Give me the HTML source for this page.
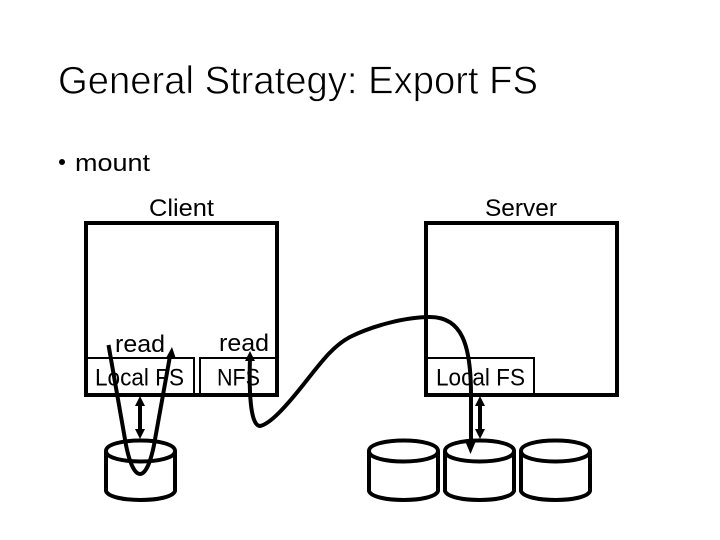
<!DOCTYPE html>
<html><head><meta charset="utf-8"><style>
html,body{margin:0;padding:0;background:#fff;width:720px;height:540px;overflow:hidden}
svg{display:block}
text{font-family:"Liberation Sans",sans-serif;fill:#000}
</style></head><body>
<svg width="720" height="540" viewBox="0 0 720 540" xmlns="http://www.w3.org/2000/svg">
<text x="58" y="93.5" font-size="39" textLength="480" lengthAdjust="spacingAndGlyphs" stroke="#fff" stroke-width="0.7" paint-order="fill stroke">General Strategy: Export FS</text>
<circle cx="62" cy="162" r="3" fill="#000"/>
<text x="75" y="171" font-size="24" textLength="75" lengthAdjust="spacingAndGlyphs">mount</text>
<text x="149" y="216" font-size="24" textLength="65" lengthAdjust="spacingAndGlyphs">Client</text>
<text x="485" y="216" font-size="24" textLength="72" lengthAdjust="spacingAndGlyphs">Server</text>
<g fill="none" stroke="#000">
<rect x="86" y="223" width="191" height="172" stroke-width="4"/>
<rect x="426" y="223" width="191" height="172" stroke-width="4"/>
<rect x="86" y="358" width="108" height="37" stroke-width="2"/>
<rect x="200" y="358" width="77" height="37" stroke-width="2"/>
<rect x="426" y="358" width="108" height="37" stroke-width="2"/>
</g>
<text x="115" y="352" font-size="24" textLength="50" lengthAdjust="spacingAndGlyphs">read</text>
<text x="219" y="351" font-size="24" textLength="50" lengthAdjust="spacingAndGlyphs">read</text>
<text x="95" y="385.5" font-size="24" textLength="89" lengthAdjust="spacingAndGlyphs">Local FS</text>
<text x="217" y="385.5" font-size="24" textLength="43" lengthAdjust="spacingAndGlyphs">NFS</text>
<text x="436" y="385.5" font-size="24" textLength="89" lengthAdjust="spacingAndGlyphs">Local FS</text>
<g fill="none" stroke="#000" stroke-width="4">
<path d="M106 451C106 437 175 437 175 451C175 465 106 465 106 451V491C110 503 171 503 175 491V451"/>
<path d="M369 451C369 437 438 437 438 451C438 465 369 465 369 451V491C373 503 434 503 438 491V451"/>
<path d="M445 451C445 437 514 437 514 451C514 465 445 465 445 451V491C449 503 510 503 514 491V451"/>
<path d="M521 451C521 437 590 437 590 451C590 465 521 465 521 451V491C525 503 586 503 590 491V451"/>
<path d="M108.500 345L126 445C131 470 137 474 140 474C143 474 149 470 154 445L170 356"/>
<path d="M250 358C249 390 250 426 260 426C270 424 285 408 307 380C325 357 335 345 350 337C372 326 405 317 430 317C462 317 471 345 471 395V442"/>
<path d="M140 402V432"/>
<path d="M480 402V432"/>
</g>
<g fill="#000">
<polygon points="172,347 166,358 176,359"/>
<polygon points="250,351 245,361 255,361"/>
<polygon points="470.500,454 465.500,442 475.500,442"/>
<polygon points="140,396 135,406 145,406"/>
<polygon points="140,439 135,429 145,429"/>
<polygon points="480,396 475,406 485,406"/>
<polygon points="480,439 475,429 485,429"/>
</g>
</svg>
</body></html>
